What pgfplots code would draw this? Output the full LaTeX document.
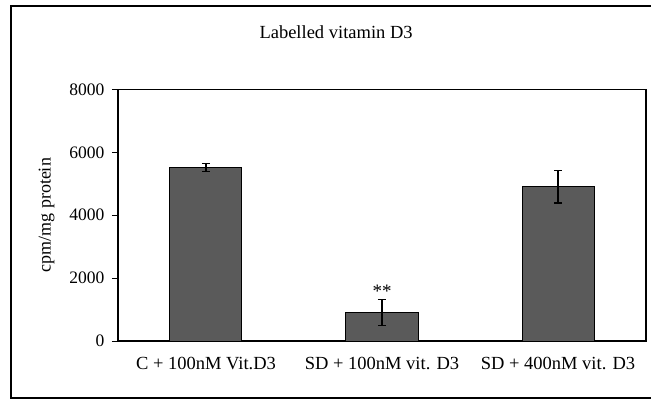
\documentclass[border=0pt]{standalone}
\usepackage{pgfplots}
\pgfplotsset{compat=1.18}
\usepackage{fontspec}
\setmainfont{Liberation Serif}
\definecolor{barfill}{HTML}{5A5A5A}
\begin{document}
\begin{tikzpicture}
\begin{axis}[
  name=ax,
  scale only axis,
  width=528pt, height=251.5pt,
  at={(0,0)}, anchor=south west,
  axis lines=box,
  xmin=-0.5, xmax=2.5,
  ymin=0, ymax=8000,
  ytick={0,2000,4000,6000,8000},
  xtick={0,1,2},
  xticklabels={C + 100nM Vit.D3, SD + 100nM vit. D3, SD + 400nM vit. D3},
  extra x ticks={-0.5,0.5,1.5,2.5},
  extra x tick labels={},
  extra x tick style={major tick length=6pt, tick align=outside, tick style={black, line width=1pt}},
  x tick label style={yshift=-7pt, font=\fontsize{18.5}{22}\selectfont},
  xtick style={draw=none},
  ytick pos=left, xtick pos=bottom,
  tick align=outside,
  major tick length=6pt,
  ytick style={black, line width=1pt},
  axis line style={black, line width=1.3pt},
  scaled y ticks=false,
  /pgf/number format/assume math mode=true,
  /pgf/number format/1000 sep={},
  y tick label style={font=\fontsize{17.5}{21}\selectfont, xshift=-4pt},
  ylabel={cpm/mg protein},
  ylabel style={at={(axis description cs:-0.135,0.5)}, anchor=center, font=\fontsize{18}{22}\selectfont},
  clip=false,
]
\addplot[ybar, bar width=72pt, fill=barfill, draw=black, line width=1pt,
  error bars/.cd, y dir=both, y explicit,
  error bar style={black, line width=1.3pt},
  error mark options={rotate=90, mark size=4pt, line width=1.3pt, black}]
  coordinates {
    (0,5520) +- (0,125)
    (1,910) +- (0,420)
    (2,4910) +- (0,520)
  };
\node[anchor=south, font=\fontsize{19}{22}\selectfont, inner sep=1pt] at (axis cs:1,1330) {**};
\node[font=\fontsize{18.5}{22}\selectfont] at (rel axis cs:0.413,1.229) {Labelled vitamin D3};
\end{axis}
\draw[black, line width=1.3pt] (ax.north west) -- (ax.north east) -- (ax.south east);
\draw[black, line width=1.3pt] (560pt,-57pt) -- (-107pt,-57pt) -- (-107pt,335pt) -- (560pt,335pt);
\pgfresetboundingbox
\useasboundingbox (-118pt,-59pt) rectangle (533pt,341pt);
\end{tikzpicture}
\end{document}
